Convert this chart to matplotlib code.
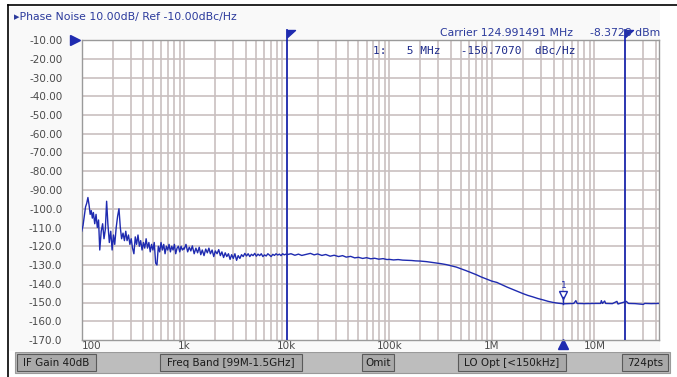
import matplotlib
matplotlib.use('Agg')
import matplotlib.pyplot as plt
from matplotlib.patches import Rectangle
from matplotlib.lines import Line2D
from matplotlib.transforms import blended_transform_factory

# Phase noise trace, one decade per block
freq_100_1k = [
    100, 103, 106, 109, 112, 115, 118, 121, 124, 127, 130, 134, 138, 142, 146,
    150, 155, 160, 165, 170, 175, 180, 186, 192, 198, 204, 210, 217, 224, 231,
    238, 245, 253, 261, 269, 277, 286, 295, 304, 313, 323, 333, 343, 354, 365,
    376, 388, 400, 412, 425, 438, 452, 466, 480, 495, 510, 526, 542, 559, 576,
    594, 612, 631, 650, 670, 690, 711, 733, 755, 778, 802, 826, 851, 877, 904,
    931, 959, 988,
]
noise_100_1k = [
    -112.0, -109.0, -104.0, -99.0, -97.0, -94.0, -98.0, -103.0, -101.0, -105.0,
    -102.0, -108.0, -103.0, -110.0, -106.0, -122.0, -112.0, -108.0, -116.0, -111.0,
    -96.0, -108.0, -118.0, -112.0, -122.0, -114.0, -119.0, -110.0, -104.0, -100.0,
    -110.0, -116.0, -113.0, -117.0, -112.0, -117.0, -114.0, -119.0, -116.0, -121.0,
    -124.0, -115.0, -119.0, -114.0, -120.0, -117.0, -122.0, -118.0, -121.0, -116.0,
    -121.0, -118.0, -123.0, -119.0, -122.0, -118.0, -129.0, -130.0, -120.0, -123.0,
    -118.0, -122.0, -119.0, -124.0, -120.0, -122.0, -119.0, -123.0, -120.0, -122.0,
    -119.0, -124.0, -121.0, -120.0, -123.0, -120.0, -122.0, -121.0,
]
freq_1k_10k = [
    1000, 1040, 1080, 1120, 1160, 1200, 1250, 1300, 1350, 1400, 1450, 1500,
    1560, 1620, 1680, 1740, 1800, 1870, 1940, 2010, 2090, 2170, 2250, 2330,
    2420, 2510, 2600, 2700, 2800, 2900, 3010, 3120, 3240, 3360, 3490, 3620,
    3760, 3900, 4050, 4200, 4360, 4520, 4690, 4870, 5050, 5240, 5440, 5640,
    5850, 6070, 6300, 6540, 6790, 7040, 7310, 7580, 7870, 8160, 8470, 8790,
    9120, 9460, 9820,
]
noise_1k_10k = [
    -121.5, -119.0, -123.0, -120.5, -122.5, -119.8, -124.0, -121.0, -123.5, -120.5,
    -124.5, -122.0, -125.0, -121.5, -123.5, -121.0, -124.0, -122.0, -125.5, -122.5,
    -124.0, -121.8, -125.0, -123.0, -126.0, -123.5, -125.5, -124.0, -127.0, -124.5,
    -126.5, -124.0, -127.5, -125.0, -126.5, -124.5, -125.5, -123.8, -125.2, -124.0,
    -125.5, -124.3, -125.0, -123.8, -125.3, -124.2, -125.0, -124.0, -125.5, -124.6,
    -125.2, -124.0, -124.8, -125.5, -124.3, -124.9, -124.0, -124.7, -124.2, -125.0,
    -124.0, -124.6, -124.2,
]
freq_10k_100k = [
    10e3, 11e3, 12e3, 13e3, 14e3, 15.5e3, 17e3, 18.5e3, 20e3, 22e3, 24e3,
    26.5e3, 29e3, 32e3, 35e3, 38e3, 42e3, 46e3, 50e3, 55e3, 60e3, 66e3, 72e3,
    79e3, 87e3, 95e3,
]
noise_10k_100k = [
    -124.5, -124.0, -124.8, -124.2, -124.9, -124.3, -123.8, -124.6, -124.1, -124.9,
    -124.4, -125.3, -124.8, -125.5, -125.0, -125.8, -125.4, -126.2, -125.9, -126.5,
    -126.1, -126.7, -126.4, -126.9, -126.6, -127.1,
]
freq_100k_5m = [
    100e3, 110e3, 122e3, 135e3, 150e3, 165e3, 180e3, 200e3, 230e3, 260e3, 290e3,
    320e3, 360e3, 400e3, 450e3, 500e3, 560e3, 630e3, 700e3, 790e3, 890e3, 1e6,
    1.12e6, 1.26e6, 1.41e6, 1.58e6, 1.78e6, 2.0e6, 2.24e6, 2.51e6, 2.82e6,
    3.16e6, 3.55e6, 3.98e6, 4.47e6,
]
noise_100k_5m = [
    -127.0, -127.3, -127.1, -127.4, -127.5, -127.6, -127.8, -127.9, -128.2, -128.6,
    -128.9, -129.3, -129.8, -130.4, -131.1, -132.0, -133.0, -134.1, -135.1, -136.4,
    -137.5, -138.6, -139.3, -140.6, -141.8, -142.9, -144.1, -145.2, -146.2, -147.0,
    -147.9, -148.6, -149.4, -150.0, -150.4,
]
freq_5m_end = [
    5e6, 5.6e6, 6.3e6, 6.6e6, 6.8e6, 8e6, 10e6, 11.5e6, 11.7e6, 12e6, 12.6e6,
    12.9e6, 15e6, 16.6e6, 17e6, 20.5e6, 21.5e6, 25e6, 30e6, 31e6, 36e6, 42.7e6,
]
noise_5m_end = [
    -150.7, -150.6, -150.5, -149.0, -150.5, -150.6, -150.5, -150.5, -149.0, -150.5,
    -149.2, -150.5, -150.6, -149.4, -150.8, -149.4, -150.5, -150.6, -151.0, -150.5,
    -150.6, -150.5,
]

y_ticks = list(range(-10, -171, -10))
y_tick_labels = ['-10.00', '-20.00', '-30.00', '-40.00', '-50.00', '-60.00',
                 '-70.00', '-80.00', '-90.00', '-100.0', '-110.0', '-120.0',
                 '-130.0', '-140.0', '-150.0', '-160.0', '-170.0']
x_ticks = [1e2, 1e3, 1e4, 1e5, 1e6, 1e7]
x_tick_labels = ['100', '1k', '10k', '100k', '1M', '10M']
marker_lines_hz = [10e3, 20e6]
marker1_hz = 5e6
marker1_dbc = -150.707
status_items = ['IF Gain 40dB', 'Freq Band [99M-1.5GHz]', 'Omit',
                'LO Opt [<150kHz]', '724pts']

freq_hz = freq_100_1k + freq_1k_10k + freq_10k_100k + freq_100k_5m + freq_5m_end
noise_dbc = noise_100_1k + noise_1k_10k + noise_10k_100k + noise_100k_5m + noise_5m_end

W, H = 677, 377
BLUE = '#1f2bb0'
TEXT_BLUE = '#2b3a9c'
GRID = '#c9c0c0'


def fx(px):
    return px / W


def fy(py):
    return 1 - py / H


fig = plt.figure(figsize=(W / 100, H / 100), dpi=100, facecolor='white')

# panel background and outer frame
fig.add_artist(Rectangle((fx(9), fy(351)), fx(660) - fx(9), fy(7) - fy(351),
                         transform=fig.transFigure, facecolor='#f9f9f9',
                         edgecolor='none', zorder=0))
fig.add_artist(Line2D([fx(7.5), fx(7.5)], [0, fy(5)], color='black', lw=1.2,
                      transform=fig.transFigure))
fig.add_artist(Line2D([fx(7.5), 1], [fy(5), fy(5)], color='black', lw=1.2,
                      transform=fig.transFigure))

ax = fig.add_axes([fx(81.7), fy(340), fx(659) - fx(81.7), fy(40) - fy(340)])
ax.set_facecolor('white')
ax.set_xscale('log')
ax.set_xlim(100, 42.7e6)
ax.set_ylim(-170, -10)

# grid: every 1..9 x decade and every 10 dB
grid_x = [m * 10 ** e for e in range(2, 8) for m in range(1, 10)]
for g in grid_x:
    if 100 < g < 42.7e6:
        ax.axvline(g, color=GRID, lw=1.2, zorder=1)
for t in y_ticks[1:-1]:
    ax.axhline(t, color=GRID, lw=1.2, zorder=1)

ax.plot(freq_hz, noise_dbc, color=BLUE, lw=1.0, zorder=3)

for f in marker_lines_hz:
    ax.axvline(f, color=BLUE, lw=1.3, zorder=4)

ax.set_yticks(y_ticks)
ax.set_yticklabels(y_tick_labels)
ax.set_xticks(x_ticks)
ax.set_xticklabels(x_tick_labels)
ax.xaxis.set_minor_locator(matplotlib.ticker.NullLocator())
ax.tick_params(length=0, labelsize=7.5, labelcolor='#4a4a4a')
ax.tick_params(axis='y', pad=14)
ax.tick_params(axis='x', pad=1)
ax.get_xticklabels()[0].set_horizontalalignment('left')
for s in ax.spines.values():
    s.set_color('#9a9a9a')
    s.set_linewidth(1.0)

# flags on top of the marker lines
blend = blended_transform_factory(ax.transData, ax.transAxes)
flag = matplotlib.path.Path([(0, 0), (1, 0), (0, -0.9), (0, 0)])
for f in marker_lines_hz:
    ax.plot([f, f], [1.0, 1.033], color=BLUE, lw=1.3, transform=blend,
            clip_on=False, zorder=5)
    ax.plot(f, 1.033, marker=flag, ms=11.5, color=BLUE, mec=BLUE,
            transform=blend, clip_on=False, zorder=5)

# reference level arrow and marker-1 arrow below the axis
ax.plot(-0.011, 1.0, marker='>', ms=7, color=BLUE, transform=ax.transAxes,
        clip_on=False)
ax.plot(marker1_hz, -0.012, marker='^', ms=7, color=BLUE, transform=blend,
        clip_on=False)

# marker 1 symbol on the trace
ax.plot(marker1_hz, marker1_dbc + 4.5, marker='v', ms=6, mfc='white',
        mec=BLUE, mew=1.0, zorder=6)
ax.plot([marker1_hz, marker1_hz], [marker1_dbc, marker1_dbc + 3.5],
        color=BLUE, lw=1.0, zorder=6)
ax.text(marker1_hz, marker1_dbc + 7.5, '1', color=BLUE, fontsize=6.5,
        ha='center', va='bottom', zorder=6)

# header texts
fig.text(fx(14), fy(17), '\u25b8Phase Noise 10.00dB/ Ref -10.00dBc/Hz',
         color=TEXT_BLUE, fontsize=7.8, va='center', ha='left')
fig.text(fx(440), fy(33), 'Carrier 124.991491 MHz', color=TEXT_BLUE,
         fontsize=7.8, va='center', ha='left')
fig.text(fx(660), fy(33), '-8.3728 dBm', color=TEXT_BLUE,
         fontsize=7.8, va='center', ha='right')
ax.text(0.504, 0.98, '1:   5 MHz   -150.7070  dBc/Hz', transform=ax.transAxes,
        family='DejaVu Sans Mono', fontsize=8, color='#1c2a8a',
        va='top', ha='left', zorder=7)

# status bar
fig.add_artist(Rectangle((fx(15), fy(373)), fx(670) - fx(15), fy(352) - fy(373),
                         transform=fig.transFigure, facecolor='#bdbdbd',
                         edgecolor='#9a9a9a', lw=0.8, zorder=1))
button_x = [(17, 96), (160, 302), (362, 394), (458, 566), (622, 668)]
for (x0, x1), label in zip(button_x, status_items):
    fig.add_artist(Rectangle((fx(x0), fy(371)), fx(x1) - fx(x0), fy(354) - fy(371),
                             transform=fig.transFigure, facecolor='#a9a9a9',
                             edgecolor='#5a5a5a', lw=0.8, zorder=2))
    fig.text((fx(x0) + fx(x1)) / 2, fy(362.5), label, fontsize=7.5,
             color='#1a1a1a', ha='center', va='center', zorder=3)

fig.savefig('out.png', dpi=100, facecolor='white')
